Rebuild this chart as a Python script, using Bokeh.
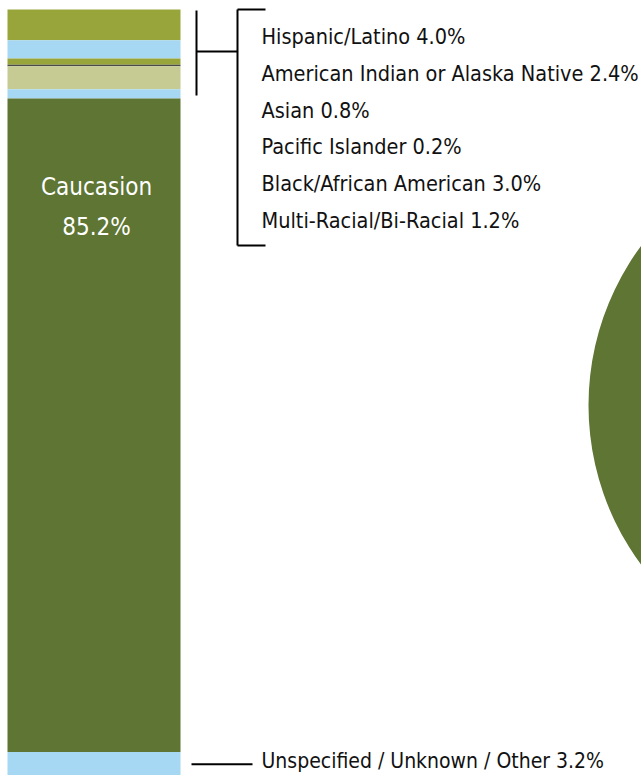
from bokeh.plotting import figure
from bokeh.models import Range1d, ColumnDataSource
from bokeh.core.properties import value
from bokeh.embed import file_html
from bokeh.resources import INLINE
import math

# ---- data ----
categories = ["Hispanic/Latino", "American Indian or Alaska Native", "Asian",
              "Pacific Islander", "Black/African American", "Multi-Racial/Bi-Racial",
              "Caucasion", "Unspecified / Unknown / Other"]
percents = [4.0, 2.4, 0.8, 0.2, 3.0, 1.2, 85.2, 3.2]
colors = ["#97A53B", "#A6D8F3", "#97A53B", "#4A4A4A", "#C6CB93", "#A6D8F3",
          "#5E7534", "#A6D8F3"]
bracket_group = categories[:6]

FONT = "'DejaVu Sans Condensed', Roboto"

# cumulative stacking (top = 0)
tops, bottoms = [], []
acc = 0.0
for v in percents:
    tops.append(acc)
    acc += v
    bottoms.append(acc)

p = figure(width=641, height=775, output_backend="svg", toolbar_location=None,
           x_range=Range1d(0, 641), y_range=Range1d(99.87, -1.17),
           min_border=0, outline_line_color=None, background_fill_color="white")
p.axis.visible = False
p.grid.visible = False

# pie (mostly off-screen)
total = sum(percents)
cx, cy, r = 856, 51.6, 268
cau = percents[6] / total * 2 * math.pi
start = math.pi - cau / 2
ws, we, wc = [], [], []
a = start
order = [6, 7, 0, 1, 2, 3, 4, 5]
for i in order:
    span = percents[i] / total * 2 * math.pi
    ws.append(a)
    we.append(a + span)
    wc.append(colors[i])
    a += span
p.wedge(x=cx, y=cy, radius=r, start_angle=ws, end_angle=we, fill_color=wc,
        line_color=None)

# stacked bar
src = ColumnDataSource(dict(cat=categories, top=tops, bottom=bottoms, color=colors))
p.vbar(x=93.5, width=173, top="top", bottom="bottom", fill_color="color",
       line_color=None, source=src)

# label inside Caucasian segment
p.text(x=[96, 96], y=[23.2, 28.3],
       text=[categories[6], f"{percents[6]:.1f}%"],
       text_color="white", text_font=value(FONT), text_font_size="24px",
       text_align="center", text_baseline="middle")

# left bracket (covering the small groups)
grp_top = tops[0] + 0.13
grp_bot = bottoms[5] - 0.4
mid = (grp_top + grp_bot) / 2 - 0.2
p.segment(x0=[196, 196], y0=[grp_top, mid], x1=[196, 237], y1=[grp_bot, mid],
          line_color="black", line_width=2)

# right bracket with list
step = 4.8
first = 3.52
rows = [first + i * step for i in range(len(bracket_group))]
b_top = 0.0
b_bot = rows[-1] + 3.25
p.segment(x0=[237, 237, 237], y0=[b_top, b_top, b_bot],
          x1=[237, 265, 265], y1=[b_bot, b_top, b_bot],
          line_color="black", line_width=2)
p.text(x=261, y=rows,
       text=[f"{c} {v:.1f}%" for c, v in zip(bracket_group, percents[:6])],
       text_color="#111111", text_font=value(FONT), text_font_size="21.5px",
       text_align="left", text_baseline="middle")

# unspecified
u_mid = (tops[7] + bottoms[7]) / 2
p.segment(x0=191, y0=u_mid, x1=252, y1=u_mid, line_color="black", line_width=2)
p.text(x=261, y=[u_mid - 0.4], text=[f"{categories[7]} {percents[7]:.1f}%"],
       text_color="#111111", text_font=value(FONT), text_font_size="21px",
       text_align="left", text_baseline="middle")

open("out.html", "w").write(file_html(p, INLINE))
